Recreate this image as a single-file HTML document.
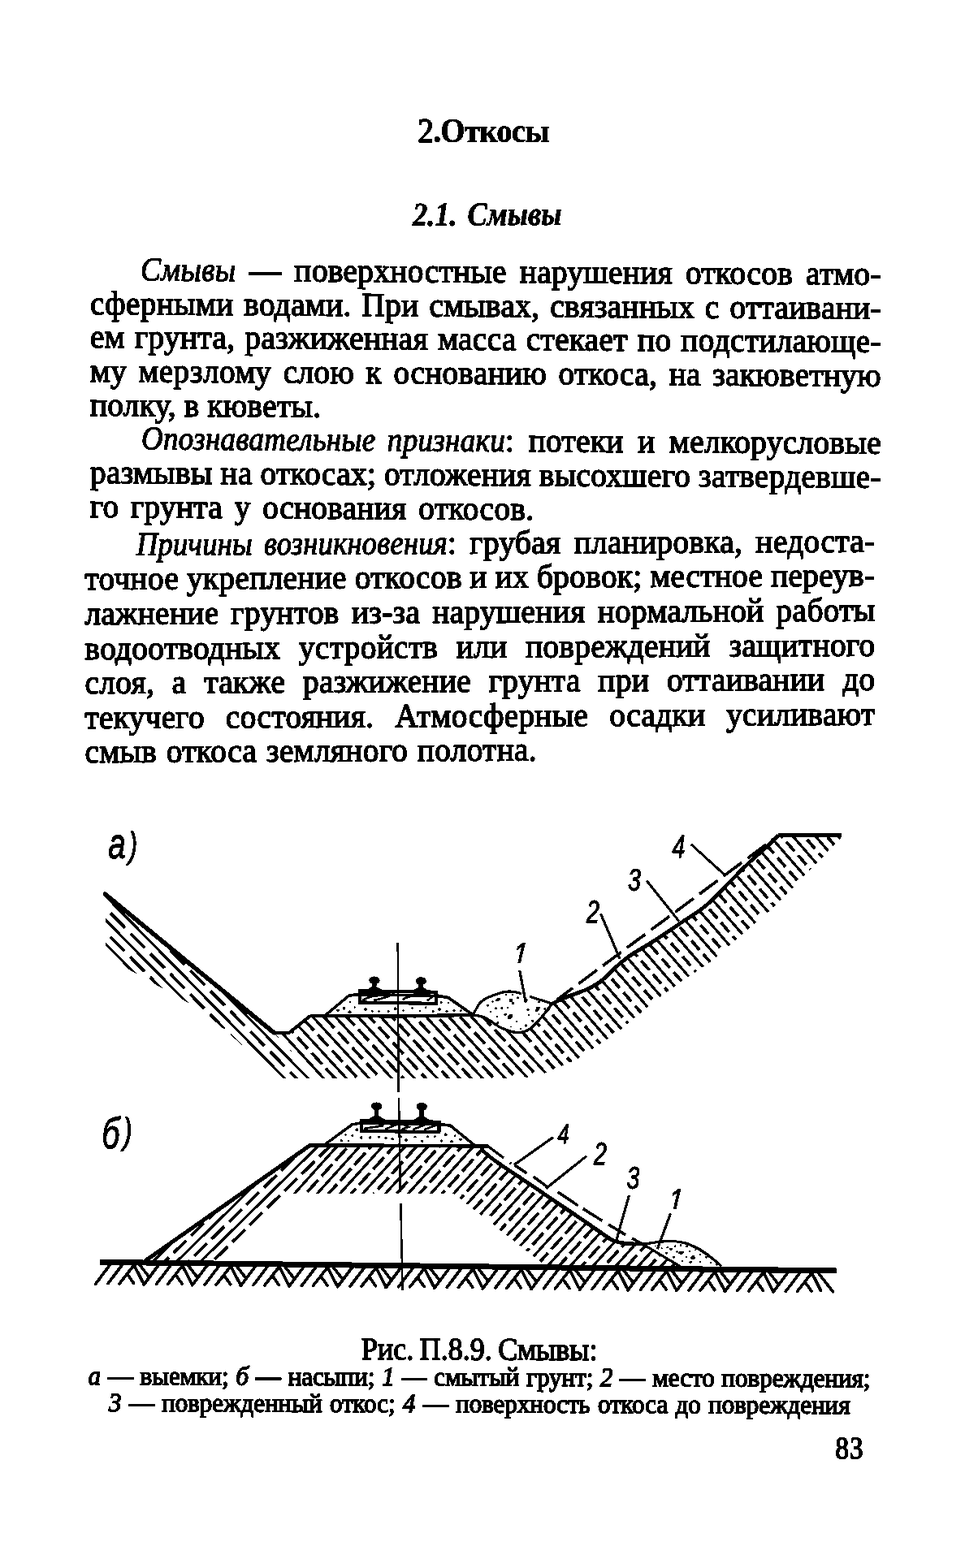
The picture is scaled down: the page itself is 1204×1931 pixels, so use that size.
<!DOCTYPE html>
<html lang="ru">
<head>
<meta charset="utf-8">
<title>2. Откосы — 2.1. Смывы</title>
<style>
html,body{margin:0;padding:0;background:#fff;}
body{width:1204px;height:1931px;overflow:hidden;position:relative;
  font-family:"Liberation Serif","DejaVu Serif",serif;color:#000;}
.page{position:absolute;left:0;top:0;width:1204px;height:1931px;background:#fff;overflow:hidden;}
.txt{position:absolute;left:0;top:0;width:1204px;height:1931px;filter:url(#bw);}
.ln{position:absolute;left:0;width:1204px;height:50px;line-height:50px;margin:0;white-space:nowrap;
  transform-origin:var(--x) var(--b);transform:matrix(1,var(--s),0,var(--sy),0,0);}
.ln>span{position:absolute;top:0;white-space:pre;transform-origin:0 var(--b);-webkit-text-stroke:1.25px #000;}
.b{font-weight:bold;}
.i{font-style:italic;}
.ln>span.bi{font-style:italic;font-weight:bold;-webkit-text-stroke:0.4px #000;}
.ln>span.b{-webkit-text-stroke:0.5px #000;}
.ln>span.i{-webkit-text-stroke:1.05px #000;}
.ln>span.hi{font-style:italic;-webkit-text-stroke:1.2px #000;}
.ln>span.h2{-webkit-text-stroke:1.4px #000;}
.cap>span{-webkit-text-stroke:1.3px #000;}
.fig{position:absolute;left:0;top:0;filter:url(#bw);}
.fig text.n{stroke:#000;stroke-width:.9px;}.fig text.s{font-family:"Liberation Serif",serif;stroke:#000;stroke-width:1.5px;}
.fig text.l{stroke:#000;stroke-width:1.1px;}
</style>
</head>
<body>
<svg width="0" height="0" style="position:absolute" aria-hidden="true" focusable="false">
<defs><filter id="bw" x="0" y="0" width="100%" height="100%" color-interpolation-filters="sRGB">
<feComponentTransfer><feFuncA type="discrete" tableValues="0 0 1 1 1"/></feComponentTransfer>
</filter></defs></svg>
<div class="page">
<div class="txt">
<div class="ln" style="top:137.31px;font-size:38.5px;--x:514.5px;--b:37.99px;--s:0.0;--sy:1.07"><span class="h2" style="left:514.5px;">2</span><span class="b" style="left:533.5px;letter-spacing:-0.59px;">.Откосы</span></div>
<div class="ln" style="top:239.61px;font-size:38.5px;--x:507.5px;--b:37.99px;--s:-0.006;--sy:1.07"><span class="bi" style="left:507.5px;word-spacing:4px;transform:scaleX(0.9456);">2.1. Смывы</span></div>
<div class="ln" style="top:307.02px;font-size:39.2px;--x:111.0px;--b:38.23px;--s:0.0058;--sy:1.045"><span class="i" style="left:172.5px;letter-spacing:0.4px;transform:scaleX(0.9533);">Смывы</span><span style="left:307.0px;letter-spacing:0.4px;word-spacing:5.75px;">— поверхностные нарушения откосов атмо-</span></div>
<div class="ln" style="top:348.67px;font-size:39.2px;--x:111.0px;--b:38.23px;--s:0.0058;--sy:1.045"><span style="left:111.0px;letter-spacing:0.4px;word-spacing:2.61px;">сферными водами. При смывах, связанных с оттаивани-</span></div>
<div class="ln" style="top:390.32px;font-size:39.2px;--x:111.0px;--b:38.23px;--s:0.0058;--sy:1.045"><span style="left:111.0px;letter-spacing:0.4px;word-spacing:1.91px;">ем грунта, разжиженная масса стекает по подстилающе-</span></div>
<div class="ln" style="top:431.97px;font-size:39.2px;--x:111.0px;--b:38.23px;--s:0.0058;--sy:1.045"><span style="left:111.0px;letter-spacing:0.4px;word-spacing:4.21px;">му мерзлому слою к основанию откоса, на закюветную</span></div>
<div class="ln" style="top:473.62px;font-size:39.2px;--x:111.0px;--b:38.23px;--s:0.0058;--sy:1.045"><span style="left:111.0px;letter-spacing:0.4px;word-spacing:-0.40px;">полку, в кюветы.</span></div>
<div class="ln" style="top:515.27px;font-size:39.2px;--x:111.0px;--b:38.23px;--s:0.0058;--sy:1.045"><span class="i" style="left:174.0px;letter-spacing:0.4px;word-spacing:5px;transform:scaleX(0.9410);">Опознавательные признаки</span><span style="left:622.0px;letter-spacing:0.4px;word-spacing:7.24px;">: потеки и мелкорусловые</span></div>
<div class="ln" style="top:556.92px;font-size:39.2px;--x:111.0px;--b:38.23px;--s:0.0058;--sy:1.045"><span style="left:111.0px;letter-spacing:0.4px;word-spacing:-0.36px;">размывы на откосах; отложения высохшего затвердевше-</span></div>
<div class="ln" style="top:598.57px;font-size:39.2px;--x:111.0px;--b:38.23px;--s:0.0058;--sy:1.045"><span style="left:111.0px;letter-spacing:0.4px;word-spacing:4.33px;">го грунта у основания откосов.</span></div>
<div class="ln" style="top:645.89px;font-size:39.2px;--x:104.5px;--b:38.23px;--s:-0.0045;--sy:1.045"><span class="i" style="left:168.0px;letter-spacing:0.4px;word-spacing:5px;transform:scaleX(0.9254);">Причины возникновения</span><span style="left:551.0px;letter-spacing:0.4px;word-spacing:6.02px;">: грубая планировка, недоста-</span></div>
<div class="ln" style="top:688.47px;font-size:39.2px;--x:104.5px;--b:38.23px;--s:-0.0045;--sy:1.045"><span style="left:104.5px;letter-spacing:0.4px;word-spacing:-0.40px;">точное укрепление откосов и их бровок; местное переув-</span></div>
<div class="ln" style="top:731.05px;font-size:39.2px;--x:104.5px;--b:38.23px;--s:-0.0045;--sy:1.045"><span style="left:104.5px;letter-spacing:0.4px;word-spacing:4.93px;">лажнение грунтов из-за нарушения нормальной работы</span></div>
<div class="ln" style="top:773.63px;font-size:39.2px;--x:104.5px;--b:38.23px;--s:-0.0045;--sy:1.045"><span style="left:104.5px;letter-spacing:0.4px;word-spacing:12.40px;">водоотводных устройств или повреждений защитного</span></div>
<div class="ln" style="top:816.21px;font-size:39.2px;--x:104.5px;--b:38.23px;--s:-0.0045;--sy:1.045"><span style="left:104.5px;letter-spacing:0.4px;word-spacing:11.50px;">слоя, а также разжижение грунта при оттаивании до</span></div>
<div class="ln" style="top:858.79px;font-size:39.2px;--x:104.5px;--b:38.23px;--s:-0.0045;--sy:1.045"><span style="left:104.5px;letter-spacing:0.4px;word-spacing:15.57px;">текучего состояния. Атмосферные осадки усиливают</span></div>
<div class="ln" style="top:901.37px;font-size:39.2px;--x:104.5px;--b:38.23px;--s:-0.0045;--sy:1.045"><span style="left:104.5px;letter-spacing:0.4px;word-spacing:1.51px;">смыв откоса земляного полотна.</span></div>
<div class="ln" style="top:1636.95px;font-size:36px;--x:445.0px;--b:37.15px;--s:0.003;--sy:1.08"><span style="left:445.0px;word-spacing:-1.47px;">Рис. П.8.9. Смывы:</span></div>
<div class="ln cap" style="top:1670.44px;font-size:31px;--x:108.5px;--b:35.46px;--s:0.0031;--sy:1.05"><span style="left:108.5px;word-spacing:1.04px;"><i>а</i> — выемки; <i>б</i> — насыпи; <i>1</i> — смытый грунт; <i>2</i> — место повреждения;</span></div>
<div class="ln cap" style="top:1703.14px;font-size:31px;--x:134.0px;--b:35.46px;--s:0.0031;--sy:1.05"><span style="left:134.0px;word-spacing:1.54px;"><i>3</i> — поврежденный откос; <i>4</i> — поверхность откоса до повреждения</span></div>
<div class="ln" style="top:1759.76px;font-size:33px;--x:1028.5px;--b:36.14px;--s:0.003;--sy:1.16"><span style="left:1028.5px;letter-spacing:1.00px;">83</span></div>
</div>
<svg class="fig" width="1204" height="1931" viewBox="0 0 1204 1931" role="img" aria-label="Рис. П.8.9. Смывы">
<defs>
<clipPath id="ca"><polygon points="129.4,1101.2 337,1271.7 356,1271.7 382,1251 399.7,1251 582.4,1250 597.4,1253.4 617.3,1265.9 637.2,1271.6 652.2,1267.1 667.1,1252.2 679.6,1236 699.5,1227.2 722,1218.5 739.4,1208.6 759.3,1189.9 776.8,1176 799.9,1162 837.3,1137.1 869.7,1114.7 899.6,1084.8 919.5,1064.8 944.4,1042.4 958.1,1028.7 1035.4,1028.7 1035.4,1032 984.3,1084.8 949.4,1120 874.7,1184.4 859,1195 809.2,1230 759.3,1272 709.5,1305 660,1326 617,1328 345,1328 250,1245 157,1193 130,1166"/></clipPath>
<clipPath id="ca1" clip-path="url(#ca)"><polygon points="-213.7,691.4 887.7,1852 -1612.3,1852 -2713.7,691.4"/></clipPath>
<clipPath id="ca2" clip-path="url(#ca)"><polygon points="-213.7,691.4 887.7,1852 3387.7,1852 2286.3,691.4"/></clipPath>
<clipPath id="ca2a" clip-path="url(#ca2)"><polygon points="105,674.3 1169.4,1868.9 -1330.6,1868.9 -2395,674.3"/></clipPath>
<clipPath id="ca3" clip-path="url(#ca)"><polygon points="105,674.3 1169.4,1868.9 3669.4,1868.9 2605,674.3"/></clipPath>
<clipPath id="cb"><polygon points="179.8,1552 381.6,1410.5 594,1411 594.6,1417.5 610,1429.9 642.3,1451.7 679.7,1477 713.4,1499.7 742,1519.5 754.4,1527.5 769.4,1531.2 794.3,1532 797,1535 838,1560 670,1557.5 558,1469.5 353,1469.5 269.5,1553.5"/></clipPath>
<clipPath id="cb1" clip-path="url(#cb)"><polygon points="-202.7,2045 908.7,894 -1591.3,894 -2702.7,2045"/></clipPath>
<clipPath id="cb2" clip-path="url(#cb)"><polygon points="-202.7,2045 908.7,894 3408.7,894 2297.3,2045"/></clipPath>
<clipPath id="c1a"><rect x="624.5" y="1146" width="40" height="39.8"/></clipPath>
<clipPath id="c1b"><rect x="816" y="1449" width="40" height="39.8"/></clipPath>
</defs>
<g fill="none" stroke="#000" stroke-linecap="butt">
<!-- fig a: soil hatch -->
<g clip-path="url(#ca1)">
<path d="M265.2 947.3L525.3 1211.9M250.5 961.7L510.6 1226.3M235.8 976.2L495.9 1240.8M221.1 990.6L481.2 1255.2M206.4 1005L466.5 1269.7M191.8 1019.5L451.8 1284.1M177.1 1033.9L437.1 1298.5M162.4 1048.4L422.4 1313M147.7 1062.8L407.7 1327.4M133 1077.2L393 1341.9M118.3 1091.7L378.3 1356.3M103.6 1106.1L363.6 1370.7M88.9 1120.6L348.9 1385.2M74.2 1135L334.2 1399.6M59.5 1149.4L319.6 1414.1M44.8 1163.9L304.9 1428.5M30.1 1178.3L290.2 1442.9M15.4 1192.8L275.5 1457.4M0.7 1207.2L260.8 1471.8" stroke-width="3.1"/>
<path d="M257.9 954.5L517.9 1219.1" stroke-width="3.7" stroke-dasharray="25 10" stroke-dashoffset="28.1"/>
<path d="M243.2 969L503.2 1233.6" stroke-width="3.7" stroke-dasharray="25 10" stroke-dashoffset="7.7"/>
<path d="M228.5 983.4L488.5 1248" stroke-width="3.7" stroke-dasharray="25 10" stroke-dashoffset="22.3"/>
<path d="M213.8 997.8L473.8 1262.4" stroke-width="3.7" stroke-dasharray="25 10" stroke-dashoffset="1.9"/>
<path d="M199.1 1012.3L459.1 1276.9" stroke-width="3.7" stroke-dasharray="25 10" stroke-dashoffset="16.5"/>
<path d="M184.4 1026.7L444.4 1291.3" stroke-width="3.7" stroke-dasharray="25 10" stroke-dashoffset="31.1"/>
<path d="M169.7 1041.1L429.8 1305.8" stroke-width="3.7" stroke-dasharray="25 10" stroke-dashoffset="10.7"/>
<path d="M155 1055.6L415.1 1320.2" stroke-width="3.7" stroke-dasharray="25 10" stroke-dashoffset="25.3"/>
<path d="M140.3 1070L400.4 1334.6" stroke-width="3.7" stroke-dasharray="25 10" stroke-dashoffset="4.9"/>
<path d="M125.6 1084.5L385.7 1349.1" stroke-width="3.7" stroke-dasharray="25 10" stroke-dashoffset="19.5"/>
<path d="M110.9 1098.9L371 1363.5" stroke-width="3.7" stroke-dasharray="25 10" stroke-dashoffset="34.1"/>
<path d="M96.2 1113.3L356.3 1378" stroke-width="3.7" stroke-dasharray="25 10" stroke-dashoffset="13.7"/>
<path d="M81.6 1127.8L341.6 1392.4" stroke-width="3.7" stroke-dasharray="25 10" stroke-dashoffset="28.3"/>
<path d="M66.9 1142.2L326.9 1406.8" stroke-width="3.7" stroke-dasharray="25 10" stroke-dashoffset="7.9"/>
<path d="M52.2 1156.7L312.2 1421.3" stroke-width="3.7" stroke-dasharray="25 10" stroke-dashoffset="22.5"/>
<path d="M37.5 1171.1L297.5 1435.7" stroke-width="3.7" stroke-dasharray="25 10" stroke-dashoffset="2.1"/>
<path d="M22.8 1185.5L282.8 1450.1" stroke-width="3.7" stroke-dasharray="25 10" stroke-dashoffset="16.7"/>
<path d="M8.1 1200L268.1 1464.6" stroke-width="3.7" stroke-dasharray="25 10" stroke-dashoffset="31.3"/>
<path d="M-6.6 1214.4L253.4 1479" stroke-width="3.7" stroke-dasharray="25 10" stroke-dashoffset="10.9"/>
</g>
<g clip-path="url(#ca2a)">
<path d="M536 1051.2L761.3 1297.1M520.8 1065.1L746.2 1311M505.6 1079.1L731 1325M490.5 1093L715.8 1338.9M475.3 1106.9L700.6 1352.8M460.1 1120.8L685.4 1366.7M444.9 1134.7L670.2 1380.6M429.7 1148.6L655 1394.5M414.5 1162.6L639.8 1408.5M399.3 1176.5L624.7 1422.4M384.1 1190.4L609.5 1436.3M369 1204.3L594.3 1450.2M353.8 1218.2L579.1 1464.1M338.6 1232.1L563.9 1478M323.4 1246.1L548.7 1492M308.2 1260L533.5 1505.9M293 1273.9L518.3 1519.8M277.8 1287.8L503.1 1533.7" stroke-width="3.1"/>
<path d="M543.6 1044.3L768.9 1290.2" stroke-width="3.7" stroke-dasharray="19 7" stroke-dashoffset="3.7"/>
<path d="M528.4 1058.2L753.7 1304.1" stroke-width="3.7" stroke-dasharray="19 7" stroke-dashoffset="18.3"/>
<path d="M513.2 1072.1L738.6 1318" stroke-width="3.7" stroke-dasharray="19 7" stroke-dashoffset="6.9"/>
<path d="M498 1086L723.4 1331.9" stroke-width="3.7" stroke-dasharray="19 7" stroke-dashoffset="21.5"/>
<path d="M482.9 1099.9L708.2 1345.8" stroke-width="3.7" stroke-dasharray="19 7" stroke-dashoffset="10.1"/>
<path d="M467.7 1113.8L693 1359.7" stroke-width="3.7" stroke-dasharray="19 7" stroke-dashoffset="24.7"/>
<path d="M452.5 1127.8L677.8 1373.7" stroke-width="3.7" stroke-dasharray="19 7" stroke-dashoffset="13.3"/>
<path d="M437.3 1141.7L662.6 1387.6" stroke-width="3.7" stroke-dasharray="19 7" stroke-dashoffset="1.9"/>
<path d="M422.1 1155.6L647.4 1401.5" stroke-width="3.7" stroke-dasharray="19 7" stroke-dashoffset="16.5"/>
<path d="M406.9 1169.5L632.2 1415.4" stroke-width="3.7" stroke-dasharray="19 7" stroke-dashoffset="5.1"/>
<path d="M391.7 1183.4L617.1 1429.3" stroke-width="3.7" stroke-dasharray="19 7" stroke-dashoffset="19.7"/>
<path d="M376.5 1197.3L601.9 1443.2" stroke-width="3.7" stroke-dasharray="19 7" stroke-dashoffset="8.3"/>
<path d="M361.4 1211.3L586.7 1457.2" stroke-width="3.7" stroke-dasharray="19 7" stroke-dashoffset="22.9"/>
<path d="M346.2 1225.2L571.5 1471.1" stroke-width="3.7" stroke-dasharray="19 7" stroke-dashoffset="11.5"/>
<path d="M331 1239.1L556.3 1485" stroke-width="3.7" stroke-dasharray="19 7" stroke-dashoffset="0.1"/>
<path d="M315.8 1253L541.1 1498.9" stroke-width="3.7" stroke-dasharray="19 7" stroke-dashoffset="14.7"/>
<path d="M300.6 1266.9L525.9 1512.8" stroke-width="3.7" stroke-dasharray="19 7" stroke-dashoffset="3.3"/>
<path d="M285.4 1280.9L510.7 1526.8" stroke-width="3.7" stroke-dasharray="19 7" stroke-dashoffset="17.9"/>
</g>
<g clip-path="url(#ca3)">
<path d="M869.8 811.6L1202.2 1194M853.9 825.3L1186.4 1207.8M838.1 839.1L1170.5 1221.5M822.2 852.9L1154.7 1235.3M806.4 866.7L1138.8 1249.1M790.5 880.4L1123 1262.9M774.7 894.2L1107.1 1276.6M758.8 908L1091.3 1290.4M743 921.8L1075.4 1304.2M727.1 935.6L1059.6 1318M711.3 949.3L1043.7 1331.8M695.4 963.1L1027.9 1345.5M679.6 976.9L1012 1359.3M663.7 990.7L996.2 1373.1M647.9 1004.4L980.3 1386.9M632 1018.2L964.5 1400.6M616.2 1032L948.6 1414.4M600.3 1045.8L932.8 1428.2M584.5 1059.6L916.9 1442M568.7 1073.3L901.1 1455.8M552.8 1087.1L885.2 1469.5M537 1100.9L869.4 1483.3M521.1 1114.7L853.5 1497.1M505.3 1128.4L837.7 1510.9M489.4 1142.2L821.8 1524.6M473.6 1156L806 1538.4" stroke-width="3.1"/>
<path d="M861.9 818.5L1194.3 1200.9" stroke-width="3.7" stroke-dasharray="15 7" stroke-dashoffset="7.7"/>
<path d="M846 832.2L1178.4 1214.7" stroke-width="3.7" stroke-dasharray="15 7" stroke-dashoffset="0.3"/>
<path d="M830.2 846L1162.6 1228.4" stroke-width="3.7" stroke-dasharray="15 7" stroke-dashoffset="14.9"/>
<path d="M814.3 859.8L1146.7 1242.2" stroke-width="3.7" stroke-dasharray="15 7" stroke-dashoffset="7.5"/>
<path d="M798.5 873.6L1130.9 1256" stroke-width="3.7" stroke-dasharray="15 7" stroke-dashoffset="0.1"/>
<path d="M782.6 887.3L1115 1269.8" stroke-width="3.7" stroke-dasharray="15 7" stroke-dashoffset="14.7"/>
<path d="M766.8 901.1L1099.2 1283.5" stroke-width="3.7" stroke-dasharray="15 7" stroke-dashoffset="7.3"/>
<path d="M750.9 914.9L1083.4 1297.3" stroke-width="3.7" stroke-dasharray="15 7" stroke-dashoffset="21.9"/>
<path d="M735.1 928.7L1067.5 1311.1" stroke-width="3.7" stroke-dasharray="15 7" stroke-dashoffset="14.5"/>
<path d="M719.2 942.4L1051.7 1324.9" stroke-width="3.7" stroke-dasharray="15 7" stroke-dashoffset="7.1"/>
<path d="M703.4 956.2L1035.8 1338.6" stroke-width="3.7" stroke-dasharray="15 7" stroke-dashoffset="21.7"/>
<path d="M687.5 970L1020 1352.4" stroke-width="3.7" stroke-dasharray="15 7" stroke-dashoffset="14.3"/>
<path d="M671.7 983.8L1004.1 1366.2" stroke-width="3.7" stroke-dasharray="15 7" stroke-dashoffset="6.9"/>
<path d="M655.8 997.6L988.3 1380" stroke-width="3.7" stroke-dasharray="15 7" stroke-dashoffset="21.5"/>
<path d="M640 1011.3L972.4 1393.8" stroke-width="3.7" stroke-dasharray="15 7" stroke-dashoffset="14.1"/>
<path d="M624.1 1025.1L956.6 1407.5" stroke-width="3.7" stroke-dasharray="15 7" stroke-dashoffset="6.7"/>
<path d="M608.3 1038.9L940.7 1421.3" stroke-width="3.7" stroke-dasharray="15 7" stroke-dashoffset="21.3"/>
<path d="M592.4 1052.7L924.9 1435.1" stroke-width="3.7" stroke-dasharray="15 7" stroke-dashoffset="13.9"/>
<path d="M576.6 1066.4L909 1448.9" stroke-width="3.7" stroke-dasharray="15 7" stroke-dashoffset="6.5"/>
<path d="M560.7 1080.2L893.2 1462.6" stroke-width="3.7" stroke-dasharray="15 7" stroke-dashoffset="21.1"/>
<path d="M544.9 1094L877.3 1476.4" stroke-width="3.7" stroke-dasharray="15 7" stroke-dashoffset="13.7"/>
<path d="M529 1107.8L861.5 1490.2" stroke-width="3.7" stroke-dasharray="15 7" stroke-dashoffset="6.3"/>
<path d="M513.2 1121.5L845.6 1504" stroke-width="3.7" stroke-dasharray="15 7" stroke-dashoffset="20.9"/>
<path d="M497.3 1135.3L829.8 1517.8" stroke-width="3.7" stroke-dasharray="15 7" stroke-dashoffset="13.5"/>
<path d="M481.5 1149.1L813.9 1531.5" stroke-width="3.7" stroke-dasharray="15 7" stroke-dashoffset="6.1"/>
</g>
<!-- fig a: outlines -->
<polyline points="129.4,1101.2 337,1271.7" stroke-width="5.4" stroke-linecap="round"/>
<polyline points="335.5,1270.5 337,1271.7 356,1271.7 382,1251" stroke-width="4.0" stroke-linejoin="round"/>
<polyline points="382,1251 490,1251.5 582.4,1250" stroke-width="4.2" />
<path d="M582.4 1250C584.9 1250.6 591.6 1250.8 597.4 1253.4C603.2 1256.1 610.7 1262.9 617.3 1265.9C623.9 1268.9 631.4 1271.4 637.2 1271.6C643 1271.8 647.2 1270.3 652.2 1267.1C657.2 1263.9 662.5 1257.4 667.1 1252.2C671.7 1247 677.5 1238.7 679.6 1236" stroke-width="3.2" />
<path d="M679.6 1236C682.9 1234.5 692.4 1230.1 699.5 1227.2C706.6 1224.3 715.4 1221.6 722 1218.5C728.6 1215.4 733.2 1213.4 739.4 1208.6C745.6 1203.8 753.1 1195.3 759.3 1189.9C765.5 1184.5 770 1180.7 776.8 1176C783.6 1171.3 789.8 1168.5 799.9 1162C810 1155.5 825.7 1145 837.3 1137.1C848.9 1129.2 859.3 1123.4 869.7 1114.7C880.1 1106 891.3 1093.1 899.6 1084.8C907.9 1076.5 912 1071.9 919.5 1064.8C927 1057.7 938 1048.4 944.4 1042.4C950.8 1036.4 955.8 1031 958.1 1028.7" stroke-width="4.6" />
<polyline points="958.1,1028.7 1035.4,1028.7" stroke-width="5.2" />
<path d="M582.4 1250C584.1 1247.2 587.8 1237.7 592.4 1233.5C597 1229.3 604 1226.9 609.8 1224.8C615.6 1222.7 621.9 1221.2 627.3 1221C632.7 1220.8 639.7 1223.1 642.2 1223.5" stroke-width="3.0" />
<path d="M652.2 1227.2C656.8 1228.7 675 1234.5 679.6 1236" stroke-width="3.0" />
<line x1="686" y1="1231" x2="958" y2="1029" stroke-width="3.5" stroke-dasharray="28 9" stroke-dashoffset="4"/>
<polyline points="399.7,1251 429.6,1226 443,1224.5 539,1226.5 551.7,1228.5 582.4,1250" stroke-width="3.4" stroke-linejoin="round"/>
<g fill="#000" stroke="none"><circle cx="478.2" cy="1245.5" r="1.2"/><circle cx="551.9" cy="1234.8" r="1.2"/><circle cx="458.4" cy="1245.3" r="1.2"/><circle cx="436.7" cy="1240.6" r="1.1"/><circle cx="541" cy="1243" r="1.7"/><circle cx="524.2" cy="1240.9" r="1.3"/><circle cx="486.6" cy="1242.3" r="1.8"/><circle cx="416" cy="1244.4" r="1.8"/><circle cx="558.9" cy="1244.6" r="1.7"/><circle cx="423.6" cy="1241.7" r="1.8"/><circle cx="496.5" cy="1244.6" r="1.3"/><circle cx="450.1" cy="1242.9" r="1.8"/><circle cx="517" cy="1245" r="1.4"/><circle cx="431.1" cy="1234.1" r="1.4"/><circle cx="466.6" cy="1245.4" r="1.2"/><circle cx="507.3" cy="1241.4" r="1.2"/><circle cx="550.1" cy="1245.2" r="1.5"/><circle cx="543.3" cy="1234.7" r="1.4"/><circle cx="533.1" cy="1245.6" r="1.5"/><circle cx="430.5" cy="1246.3" r="1.9"/><circle cx="567.1" cy="1244.8" r="1.4"/></g>
<g transform="rotate(0.8 490 1228)"><rect x="443.2" y="1221" width="94" height="14.2" stroke-width="4"/><path d="M446 1232.5C456 1227 462 1226 470 1226M460 1232C470 1231 478 1227 486 1224M496 1231C502 1226 510 1226 514 1225M526 1232C529 1229 532 1227 535 1225" stroke-width="2.4"/></g>
<g transform="rotate(0.8 460.7 1221)" fill="#000" stroke="none"><ellipse cx="460.7" cy="1207.3" rx="6.6" ry="4.8"/><rect x="458.1" y="1210.1" width="5.2" height="10.9"/><path d="M447.7 1222.5C452.7 1217 456.7 1216.5 458.1 1215L463.3 1215C464.7 1216.5 468.7 1217 473.7 1222.5Z"/></g>
<g transform="rotate(0.8 518 1221.8)" fill="#000" stroke="none"><ellipse cx="518" cy="1208.1" rx="6.6" ry="4.8"/><rect x="515.4" y="1210.9" width="5.2" height="10.9"/><path d="M505 1223.3C510 1217.8 514 1217.3 515.4 1215.8L520.6 1215.8C522 1217.3 526 1217.8 531 1223.3Z"/></g>
<g fill="#000" stroke="none"><circle cx="631.2" cy="1224.8" r="1.1"/><circle cx="636.1" cy="1258.2" r="1"/><circle cx="647.6" cy="1262.8" r="1.6"/><circle cx="603.9" cy="1246.1" r="1.4"/><circle cx="629.2" cy="1264.5" r="1.1"/><circle cx="612.8" cy="1259.3" r="1.5"/><circle cx="600.3" cy="1237.9" r="1.5"/><circle cx="650" cy="1243.4" r="1.7"/><circle cx="663.7" cy="1233.5" r="1.5"/><circle cx="625.1" cy="1240.6" r="1.2"/><circle cx="623.2" cy="1225.1" r="1"/><circle cx="640.9" cy="1267" r="1.1"/><circle cx="610.7" cy="1242" r="1.4"/><circle cx="622.2" cy="1249.2" r="1.7"/><circle cx="611.9" cy="1251.7" r="1"/><circle cx="651.1" cy="1250.4" r="1.1"/><circle cx="637.3" cy="1228.9" r="1.3"/><circle cx="655.7" cy="1257.3" r="1.5"/><circle cx="670.8" cy="1242.7" r="1.4"/><circle cx="661.2" cy="1241.4" r="1.3"/><circle cx="617.9" cy="1241.4" r="1.5"/><circle cx="613.9" cy="1231.2" r="1.3"/><circle cx="606.5" cy="1233.2" r="1.2"/><circle cx="663.5" cy="1249.2" r="1"/><circle cx="631.5" cy="1235.6" r="1.6"/><circle cx="647.8" cy="1231.4" r="1.7"/><ellipse cx="628" cy="1252" rx="3.6" ry="2.4" transform="rotate(-40 628 1252)"/><ellipse cx="662" cy="1243" rx="3.8" ry="1.6" transform="rotate(-45 662 1243)"/><ellipse cx="613" cy="1231" rx="3.2" ry="1.6" transform="rotate(-30 613 1231)"/><ellipse cx="629" cy="1232" rx="2" ry="2.4" transform="rotate(0 629 1232)"/></g>
<!-- fig b: embankment hatch -->
<g clip-path="url(#cb1)">
<path d="M86.6 1480.1L296.3 1274.1M101 1494.8L310.7 1288.8M115.5 1509.5L325.1 1303.5M129.9 1524.2L339.6 1318.2M144.4 1538.9L354 1332.9M158.8 1553.6L368.5 1347.6M173.2 1568.3L382.9 1362.2M187.7 1583L397.3 1376.9M202.1 1597.7L411.8 1391.6M216.5 1612.4L426.2 1406.3M231 1627.1L440.7 1421M245.4 1641.8L455.1 1435.7M259.9 1656.4L469.5 1450.4M274.3 1671.1L484 1465.1M288.7 1685.8L498.4 1479.8" stroke-width="3.1"/>
<path d="M93.8 1487.5L303.5 1281.4" stroke-width="3.7" stroke-dasharray="22 8" stroke-dashoffset="15.7"/>
<path d="M108.3 1502.2L317.9 1296.1" stroke-width="3.7" stroke-dasharray="22 8" stroke-dashoffset="0.3"/>
<path d="M122.7 1516.9L332.4 1310.8" stroke-width="3.7" stroke-dasharray="22 8" stroke-dashoffset="14.9"/>
<path d="M137.1 1531.6L346.8 1325.5" stroke-width="3.7" stroke-dasharray="22 8" stroke-dashoffset="29.5"/>
<path d="M151.6 1546.2L361.2 1340.2" stroke-width="3.7" stroke-dasharray="22 8" stroke-dashoffset="14.1"/>
<path d="M166 1560.9L375.7 1354.9" stroke-width="3.7" stroke-dasharray="22 8" stroke-dashoffset="28.7"/>
<path d="M180.4 1575.6L390.1 1369.6" stroke-width="3.7" stroke-dasharray="22 8" stroke-dashoffset="13.3"/>
<path d="M194.9 1590.3L404.6 1384.3" stroke-width="3.7" stroke-dasharray="22 8" stroke-dashoffset="27.9"/>
<path d="M209.3 1605L419 1399" stroke-width="3.7" stroke-dasharray="22 8" stroke-dashoffset="12.5"/>
<path d="M223.8 1619.7L433.4 1413.7" stroke-width="3.7" stroke-dasharray="22 8" stroke-dashoffset="27.1"/>
<path d="M238.2 1634.4L447.9 1428.4" stroke-width="3.7" stroke-dasharray="22 8" stroke-dashoffset="11.7"/>
<path d="M252.6 1649.1L462.3 1443.1" stroke-width="3.7" stroke-dasharray="22 8" stroke-dashoffset="26.3"/>
<path d="M267.1 1663.8L476.8 1457.8" stroke-width="3.7" stroke-dasharray="22 8" stroke-dashoffset="10.9"/>
<path d="M281.5 1678.5L491.2 1472.4" stroke-width="3.7" stroke-dasharray="22 8" stroke-dashoffset="25.5"/>
<path d="M296 1693.2L505.6 1487.1" stroke-width="3.7" stroke-dasharray="22 8" stroke-dashoffset="10.1"/>
</g>
<g clip-path="url(#cb2)">
<path d="M254.3 1496.9L569.2 1147.2M269.8 1510.8L584.7 1161.1M285.2 1524.7L600.1 1175M300.7 1538.6L615.6 1188.9M316.2 1552.5L631 1202.8M331.6 1566.5L646.5 1216.8M347.1 1580.4L661.9 1230.7M362.5 1594.3L677.4 1244.6M378 1608.2L692.9 1258.5M393.4 1622.1L708.3 1272.4M408.9 1636L723.8 1286.3M424.4 1650L739.2 1300.3M439.8 1663.9L754.7 1314.2M455.3 1677.8L770.1 1328.1M470.7 1691.7L785.6 1342M486.2 1705.6L801.1 1355.9M501.6 1719.6L816.5 1369.9M517.1 1733.5L832 1383.8M532.6 1747.4L847.4 1397.7M548 1761.3L862.9 1411.6M563.5 1775.2L878.3 1425.5M578.9 1789.1L893.8 1439.4M594.4 1803.1L909.3 1453.4M609.8 1817L924.7 1467.3" stroke-width="3.1"/>
<path d="M246.6 1489.9L561.5 1140.2" stroke-width="3.7" stroke-dasharray="20 6" stroke-dashoffset="18.9"/>
<path d="M262.1 1503.8L576.9 1154.1" stroke-width="3.7" stroke-dasharray="20 6" stroke-dashoffset="7.5"/>
<path d="M277.5 1517.7L592.4 1168" stroke-width="3.7" stroke-dasharray="20 6" stroke-dashoffset="22.1"/>
<path d="M293 1531.7L607.8 1182" stroke-width="3.7" stroke-dasharray="20 6" stroke-dashoffset="10.7"/>
<path d="M308.4 1545.6L623.3 1195.9" stroke-width="3.7" stroke-dasharray="20 6" stroke-dashoffset="25.3"/>
<path d="M323.9 1559.5L638.8 1209.8" stroke-width="3.7" stroke-dasharray="20 6" stroke-dashoffset="13.9"/>
<path d="M339.3 1573.4L654.2 1223.7" stroke-width="3.7" stroke-dasharray="20 6" stroke-dashoffset="2.5"/>
<path d="M354.8 1587.3L669.7 1237.6" stroke-width="3.7" stroke-dasharray="20 6" stroke-dashoffset="17.1"/>
<path d="M370.3 1601.2L685.1 1251.5" stroke-width="3.7" stroke-dasharray="20 6" stroke-dashoffset="5.7"/>
<path d="M385.7 1615.2L700.6 1265.5" stroke-width="3.7" stroke-dasharray="20 6" stroke-dashoffset="20.3"/>
<path d="M401.2 1629.1L716 1279.4" stroke-width="3.7" stroke-dasharray="20 6" stroke-dashoffset="8.9"/>
<path d="M416.6 1643L731.5 1293.3" stroke-width="3.7" stroke-dasharray="20 6" stroke-dashoffset="23.5"/>
<path d="M432.1 1656.9L747 1307.2" stroke-width="3.7" stroke-dasharray="20 6" stroke-dashoffset="12.1"/>
<path d="M447.5 1670.8L762.4 1321.1" stroke-width="3.7" stroke-dasharray="20 6" stroke-dashoffset="0.7"/>
<path d="M463 1684.8L777.9 1335.1" stroke-width="3.7" stroke-dasharray="20 6" stroke-dashoffset="15.3"/>
<path d="M478.5 1698.7L793.3 1349" stroke-width="3.7" stroke-dasharray="20 6" stroke-dashoffset="3.9"/>
<path d="M493.9 1712.6L808.8 1362.9" stroke-width="3.7" stroke-dasharray="20 6" stroke-dashoffset="18.5"/>
<path d="M509.4 1726.5L824.2 1376.8" stroke-width="3.7" stroke-dasharray="20 6" stroke-dashoffset="7.1"/>
<path d="M524.8 1740.4L839.7 1390.7" stroke-width="3.7" stroke-dasharray="20 6" stroke-dashoffset="21.7"/>
<path d="M540.3 1754.3L855.2 1404.6" stroke-width="3.7" stroke-dasharray="20 6" stroke-dashoffset="10.3"/>
<path d="M555.7 1768.3L870.6 1418.6" stroke-width="3.7" stroke-dasharray="20 6" stroke-dashoffset="24.9"/>
<path d="M571.2 1782.2L886.1 1432.5" stroke-width="3.7" stroke-dasharray="20 6" stroke-dashoffset="13.5"/>
<path d="M586.7 1796.1L901.5 1446.4" stroke-width="3.7" stroke-dasharray="20 6" stroke-dashoffset="2.1"/>
<path d="M602.1 1810L917 1460.3" stroke-width="3.7" stroke-dasharray="20 6" stroke-dashoffset="16.7"/>
<path d="M617.6 1823.9L932.4 1474.2" stroke-width="3.7" stroke-dasharray="20 6" stroke-dashoffset="5.3"/>
</g>
<!-- fig b: outlines -->
<polyline points="179.8,1552 381.6,1410.5" stroke-width="4.8" stroke-linecap="round"/>
<polyline points="381.6,1410.5 600.9,1411.4" stroke-width="4.4" />
<polyline points="592,1411.5 594.6,1417.5" stroke-width="4.2" />
<path d="M594.6 1417.5C597.2 1419.6 602 1424.2 610 1429.9C618 1435.6 630.7 1443.9 642.3 1451.7C653.9 1459.5 667.9 1469 679.7 1477C691.6 1485 703 1492.6 713.4 1499.7C723.8 1506.8 735.2 1514.9 742 1519.5C748.8 1524.1 749.8 1525.5 754.4 1527.5C759 1529.5 762.8 1530.5 769.4 1531.2C776 1532 790.1 1531.9 794.3 1532" stroke-width="4.6" />
<path d="M794.3 1532C796.9 1531.6 804.6 1530.1 810 1529.5C815.4 1528.9 820.8 1528.2 826.5 1528.5C832.2 1528.8 838.2 1529.2 844.1 1531C850 1532.8 856.3 1536 861.6 1539C866.9 1542 871.6 1545.6 876 1549C880.4 1552.4 886.1 1557.8 888.1 1559.5" stroke-width="3.2" />
<polyline points="797,1535.5 838,1560" stroke-width="3.0" />
<line x1="600" y1="1411" x2="620" y2="1426" stroke-width="3.2"/>
<path d="M628 1431.8l1.5 1M633.7 1434.9L648.6 1444.9M656.7 1449.2L674.8 1462.3M686.6 1467.9L711.5 1484.7M717.7 1488.5L741.4 1503.4M749 1508L770 1520.5M778 1525L797 1535.5" stroke-width="3.3"/>
<polyline points="399.9,1409.5 433.5,1384.9 444,1383 541,1384.5 554.4,1386.1 584.3,1410.5" stroke-width="3.4" stroke-linejoin="round"/>
<g fill="#000" stroke="none"><circle cx="474.9" cy="1401.6" r="1.6"/><circle cx="560.1" cy="1398.7" r="1.3"/><circle cx="543.7" cy="1404.9" r="1.6"/><circle cx="500.2" cy="1403.9" r="1.8"/><circle cx="455.8" cy="1400.9" r="1.6"/><circle cx="526.4" cy="1399.8" r="1.6"/><circle cx="433.9" cy="1398.4" r="1.3"/><circle cx="511" cy="1400.2" r="1.4"/><circle cx="567" cy="1403.2" r="1.8"/><circle cx="466.5" cy="1400.2" r="1.3"/><circle cx="483.1" cy="1402.8" r="1.7"/><circle cx="493" cy="1399.8" r="1.8"/><circle cx="444.8" cy="1401" r="1.7"/><circle cx="420.4" cy="1404.4" r="1.5"/><circle cx="548.6" cy="1397.4" r="1.8"/><circle cx="439.4" cy="1391.4" r="1.8"/><circle cx="556" cy="1405.8" r="1.8"/><circle cx="429.1" cy="1405.3" r="1.2"/><circle cx="535.3" cy="1399.8" r="1.2"/><circle cx="519.9" cy="1405.1" r="1.6"/><circle cx="425.7" cy="1397.6" r="1.2"/></g>
<g transform="rotate(0.8 492 1387)"><rect x="445" y="1381" width="95.5" height="12.5" stroke-width="4"/><path d="M448 1390.5L472 1386.5L462 1383M474 1391L486 1386L478 1383.5M492 1383.5L503 1387.5L494 1391M508 1391L520 1386L512 1383.5M522 1391L538 1384.5" stroke-width="2.4"/></g>
<g transform="rotate(0.8 463.4 1380)" fill="#000" stroke="none"><ellipse cx="463.4" cy="1362.3" rx="6.6" ry="4.8"/><rect x="460.8" y="1365.1" width="5.2" height="14.9"/><path d="M450.4 1381.5C455.4 1376 459.4 1375.5 460.8 1374L466 1374C467.4 1375.5 471.4 1376 476.4 1381.5Z"/></g>
<g transform="rotate(0.8 519 1380.8)" fill="#000" stroke="none"><ellipse cx="519" cy="1362.8" rx="6.6" ry="4.8"/><rect x="516.4" y="1365.6" width="5.2" height="15.2"/><path d="M506 1382.3C511 1376.8 515 1376.3 516.4 1374.8L521.6 1374.8C523 1376.3 527 1376.8 532 1382.3Z"/></g>
<g fill="#000" stroke="none"><circle cx="840.7" cy="1541.9" r="1.5"/><circle cx="849.1" cy="1541.3" r="1.2"/><circle cx="875" cy="1554.8" r="1.1"/><circle cx="861.9" cy="1554.1" r="1.4"/><circle cx="862.1" cy="1545.1" r="1.4"/><circle cx="831.1" cy="1534.7" r="1.3"/><circle cx="822" cy="1536.3" r="1.3"/><circle cx="850.3" cy="1554.3" r="1.6"/><circle cx="833.4" cy="1541.4" r="1.1"/><circle cx="838" cy="1533.6" r="1.3"/><circle cx="840.1" cy="1553.3" r="1.2"/><circle cx="853.2" cy="1547.1" r="1.6"/><circle cx="806.9" cy="1534.5" r="1.1"/><circle cx="829.7" cy="1547.9" r="1.5"/><circle cx="845.6" cy="1534.7" r="1.5"/><circle cx="814.6" cy="1537.2" r="1"/><circle cx="869.8" cy="1548.2" r="1.4"/><circle cx="856.1" cy="1539.5" r="1.1"/><circle cx="820.5" cy="1543.4" r="1.4"/><circle cx="845.1" cy="1547.7" r="1.2"/><circle cx="882.2" cy="1556.9" r="1.7"/><ellipse cx="838" cy="1543" rx="2.8" ry="1.8" transform="rotate(10 838 1543)"/><ellipse cx="853" cy="1549" rx="3" ry="2" transform="rotate(0 853 1549)"/><ellipse cx="826" cy="1538" rx="2" ry="1.5" transform="rotate(0 826 1538)"/></g>
<line x1="123" y1="1554.4" x2="1029.5" y2="1564.9" stroke-width="6.8"/>
<path d="M117.5 1581.4L135.5 1557.4M133 1580.6L150.5 1557.6M147 1580.8L165 1557.8M157.5 1570.3L164.5 1580.3M165.5 1558.9L176 1579.4M172.5 1558.5L183.5 1572.5M177.1 1582.1L195.1 1558.1M192.6 1581.3L210.1 1558.3M206.6 1581.5L224.6 1558.5M217.1 1571L224.1 1581M225.1 1559.6L235.6 1580.1M232.1 1559.2L243.1 1573.2M236.7 1582.8L254.7 1558.8M252.2 1582L269.7 1559M266.2 1582.2L284.2 1559.2M276.7 1571.7L283.7 1581.7M284.7 1560.3L295.2 1580.8M291.7 1559.9L302.7 1573.9M296.3 1583.5L314.3 1559.5M311.8 1582.7L329.3 1559.7M325.8 1582.8L343.8 1559.8M336.3 1572.4L343.3 1582.4M344.3 1561L354.8 1581.5M351.3 1560.6L362.3 1574.6M355.9 1584.2L373.9 1560.2M371.4 1583.4L388.9 1560.4M385.4 1583.5L403.4 1560.5M395.9 1573.1L402.9 1583.1M403.9 1561.7L414.4 1582.2M410.9 1561.3L421.9 1575.3M415.5 1584.9L433.5 1560.9M431 1584.1L448.5 1561.1M445 1584.2L463 1561.2M455.5 1573.8L462.5 1583.8M463.5 1562.4L474 1582.9M470.5 1562L481.5 1576M475.1 1585.6L493.1 1561.6M490.6 1584.8L508.1 1561.8M504.6 1584.9L522.6 1561.9M515.1 1574.5L522.1 1584.5M523.1 1563.1L533.6 1583.6M530.1 1562.7L541.1 1576.7M534.7 1586.3L552.7 1562.3M550.2 1585.4L567.7 1562.4M564.2 1585.6L582.2 1562.6M574.7 1575.2L581.7 1585.2M582.7 1563.8L593.2 1584.3M589.7 1563.4L600.7 1577.4M594.3 1587L612.3 1563M609.8 1586.1L627.3 1563.1M623.8 1586.3L641.8 1563.3M634.3 1575.9L641.3 1585.9M642.3 1564.5L652.8 1585M649.3 1564.1L660.3 1578.1M653.9 1587.7L671.9 1563.7M669.4 1586.8L686.9 1563.8M683.4 1587L701.4 1564M693.9 1576.6L700.9 1586.6M701.9 1565.2L712.4 1585.7M708.9 1564.7L719.9 1578.7M713.5 1588.3L731.5 1564.3M729 1587.5L746.5 1564.5M743 1587.7L761 1564.7M753.5 1577.2L760.5 1587.2M761.5 1565.9L772 1586.4M768.5 1565.4L779.5 1579.4M773.1 1589L791.1 1565M788.6 1588.2L806.1 1565.2M802.6 1588.4L820.6 1565.4M813.1 1577.9L820.1 1587.9M821.1 1566.5L831.6 1587M828.1 1566.1L839.1 1580.1M832.7 1589.7L850.7 1565.7M848.2 1588.9L865.7 1565.9M862.2 1589.1L880.2 1566.1M872.7 1578.6L879.7 1588.6M880.7 1567.2L891.2 1587.7M887.7 1566.8L898.7 1580.8M892.3 1590.4L910.3 1566.4M907.8 1589.6L925.3 1566.6M921.8 1589.8L939.8 1566.8M932.3 1579.3L939.3 1589.3M940.3 1567.9L950.8 1588.4M947.3 1567.5L958.3 1581.5M951.9 1591.1L969.9 1567.1M967.4 1590.3L984.9 1567.3M981.4 1590.5L999.4 1567.5M991.9 1580L998.9 1590M999.9 1568.6L1010.4 1589.1M1007.9 1568.3L1025.4 1590.8" stroke-width="3.5" stroke-linecap="round"/>
<!-- axis -->
<path d="M489.7 1161L490.6 1345M491.0 1352L492.8 1468M493.3 1482L495.6 1589" stroke-width="2.3"/>
<!-- leaders -->
<path d="M639.7 1194.9L647.2 1234.7M739.6 1125.5L763.2 1181M796.2 1084.8L836 1134.6M851 1040L892.1 1077.3M681 1400.5L633 1434.5M722.1 1423.7L672.3 1463.5M774.4 1472.2L758.2 1529.5M825.5 1494.6L809.3 1538.2" stroke-width="3.0"/>
<!-- labels -->
</g>
<g font-family="'Liberation Sans','DejaVu Sans',sans-serif" font-style="italic" fill="#000">
<text transform="translate(133.5 1057) scale(0.7 1)" font-size="54" class="l">а<tspan font-size="44" dx="6" dy="-1">)</tspan></text>
<text transform="translate(125.5 1414) scale(0.72 1)" font-size="54" class="l">б<tspan font-size="44" dx="6.5" dy="-6.5">)</tspan></text>
<g clip-path="url(#c1a)"><text transform="translate(630.5 1189.3) scale(0.8 1) skewX(-6)" font-size="40" class="n">1</text></g>
<text transform="translate(722 1136) scale(0.75 1)" font-size="38" class="n">2</text>
<text transform="translate(773 1096.5) scale(0.75 1)" font-size="38" class="n">3</text>
<text transform="translate(827.5 1055.5) scale(0.75 1)" font-size="38" class="n">4</text>
<text transform="translate(686.5 1407.5) scale(0.75 1)" font-size="34" class="n">4</text>
<text transform="translate(731 1434) scale(0.75 1)" font-size="38" class="n">2</text>
<text transform="translate(771.5 1464) scale(0.75 1)" font-size="38" class="n">3</text>
<g clip-path="url(#c1b)"><text transform="translate(822 1492.3) scale(0.8 1) skewX(-6)" font-size="40" class="n">1</text></g>
</g>
</svg>
</div>
</body>
</html>
